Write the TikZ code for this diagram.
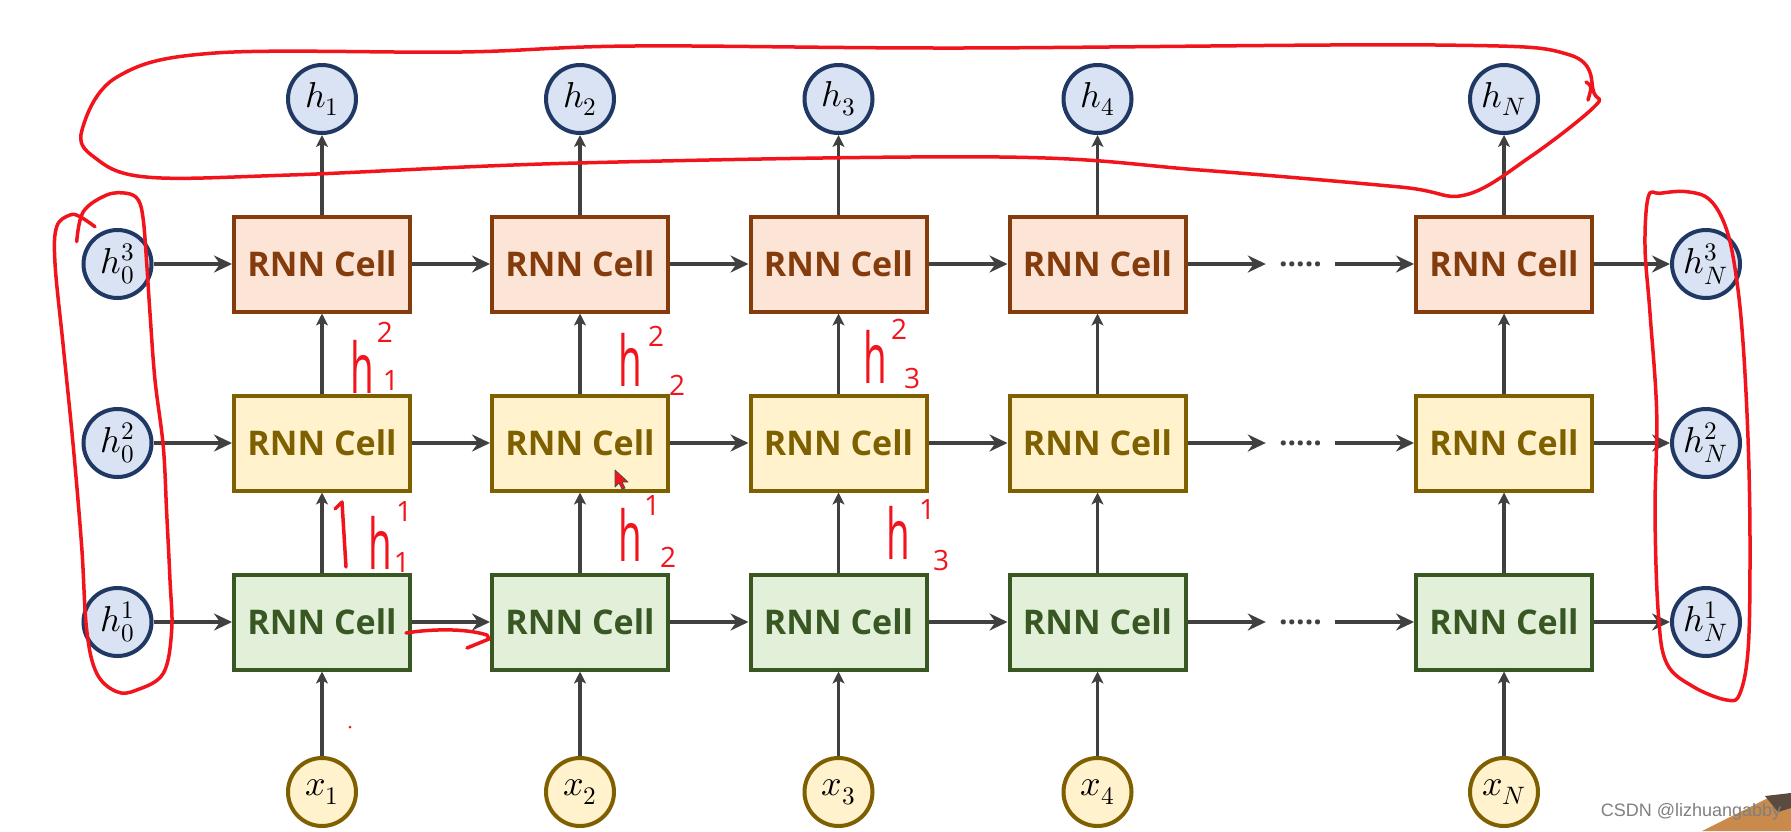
\documentclass[tikz,border=0pt]{standalone}
\usepackage{fontspec}
\usepackage{unicode-math}
\newfontfamily\osans{Open Sans}
\newfontfamily\arialf{Liberation Sans}
\usetikzlibrary{arrows.meta}
\definecolor{topfill}{HTML}{FCE4D6}
\definecolor{topdraw}{HTML}{843C0C}
\definecolor{midfill}{HTML}{FFF2CC}
\definecolor{middraw}{HTML}{7F6000}
\definecolor{botfill}{HTML}{E2F0D9}
\definecolor{botdraw}{HTML}{385723}
\definecolor{hfill}{HTML}{DAE3F3}
\definecolor{hdraw}{HTML}{203864}
\definecolor{agray}{HTML}{404040}
\definecolor{ink}{HTML}{F2141C}
\definecolor{photo}{HTML}{C98A4B}
\definecolor{photodark}{HTML}{5A4A40}
\begin{document}
\begin{tikzpicture}[x=1pt,y=-1pt,
  cellbox/.style={draw, line width=4pt, minimum width=176pt, minimum height=95pt, inner sep=0pt,
    font=\osans\bfseries\fontsize{34}{40}\selectfont},
  toprow/.style={fill=topfill, draw=topdraw, text=topdraw},
  midrow/.style={fill=midfill, draw=middraw, text=middraw},
  botrow/.style={fill=botfill, draw=botdraw, text=botdraw},
  hcirc/.style={circle, draw=hdraw, fill=hfill, line width=4pt, minimum size=68pt, inner sep=0pt,
    font=\fontsize{36}{40}\selectfont},
  xcirc/.style={circle, draw=middraw, fill=midfill, line width=4pt, minimum size=68pt, inner sep=0pt,
    font=\fontsize{36}{40}\selectfont},
  hline/.style={line width=3.5pt, draw=agray, -{Stealth[length=18pt,width=17pt,inset=6pt]}},
  vline/.style={line width=3.5pt, draw=agray, -{Stealth[length=12pt,width=12pt,inset=3pt]}},
  dotsnode/.style={minimum width=69pt, text height=4.6pt, text depth=0pt, inner sep=0pt, text=agray,
    font=\osans\bfseries\fontsize{30}{30}\selectfont},
  redink/.style={draw=ink, line width=3.5pt, line cap=round, line join=round},
  hw/.style={text=ink, inner sep=0pt, font=\osans\fontsize{70}{70}\selectfont},
  hws/.style={text=ink, inner sep=0pt, font=\osans\fontsize{28}{28}\selectfont}
]
\useasboundingbox (0,0) rectangle (1791,831);
\fill[white] (0,0) rectangle (1791,831);

% columns
\foreach \i/\x/\lab in {1/322/1,2/580/2,3/838.5/3,4/1097.5/4,5/1504/N} {
  \node[cellbox, toprow] (c\i3) at (\x,264) {RNN Cell};
  \node[cellbox, midrow] (c\i2) at (\x,443) {RNN Cell};
  \node[cellbox, botrow] (c\i1) at (\x,622) {RNN Cell};
  \node[hcirc] (h\i) at (\x,99) {$h_{\lab}$};
  \node[xcirc] (x\i) at (\x,792) {$x_{\lab}$};
  \draw[vline] (x\i) -- (c\i1);
  \draw[vline] (c\i1) -- (c\i2);
  \draw[vline] (c\i2) -- (c\i3);
  \draw[vline] (c\i3) -- (h\i);
}

% initial and final states
\foreach \r/\y in {3/264,2/443,1/622} {
  \node[hcirc] (h0\r) at (117.5,\y) {$h_0^{\r}$};
  \node[hcirc] (hN\r) at (1706,\y) {$h_N^{\r}$};
  \node[dotsnode] (d\r) at (1300.5,\y) {.....};
  \draw[hline] (h0\r) -- (c1\r);
  \draw[hline] (c1\r) -- (c2\r);
  \draw[hline] (c2\r) -- (c3\r);
  \draw[hline] (c3\r) -- (c4\r);
  \draw[hline] (c4\r) -- (d\r);
  \draw[hline] (d\r) -- (c5\r);
  \draw[hline] (c5\r) -- (hN\r);
}

% red annotations: loops
\draw[redink] plot[smooth cycle, tension=0.6] coordinates {
  (82,130) (117,77) (215,53) (462,52) (634,46) (960,48) (1436,45) (1570,55) (1594,93)
  (1594,107) (1530,157) (1465,195) (1400,187) (1200,170) (1000,157) (577,163) (290,175)
  (146,177) (94,157)};
\draw[redink] (1586,82) .. controls (1592,86) .. (1588,100);
\draw[redink] plot[smooth, tension=0.6] coordinates {
  (76.7,241.7) (83.3,211.7) (106.7,195) (126.7,193.3) (138.3,200) (143.3,220) (146.7,263.3)
  (150,313.3) (155,380) (163.3,446.7) (166.7,513.3) (170,580) (171.7,630) (163.3,673.3)
  (136.7,690) (116.7,691.7) (96.7,673.3) (86.7,630) (81.7,546.7) (73.3,446.7) (63.3,346.7)
  (55,263.3) (56.7,226.7) (70,215) (80,216.7) (95,226.7)};
\draw[redink] plot[smooth cycle, tension=0.6] coordinates {
  (1648.3,196.7) (1645,246.7) (1650,313.3) (1656.7,413.3) (1655,513.3) (1658.3,613.3)
  (1666.7,663.3) (1693.3,686.7) (1726.7,700) (1740,693.3) (1748.3,646.7) (1750,546.7)
  (1748.3,446.7) (1743.3,346.7) (1736.7,280) (1726.7,230) (1710,200) (1686.7,191.7)
  (1660,193.3)};
% red arrow between bottom cells
\draw[redink] (406,633) .. controls (430,629) and (465,628) .. (487,635) -- (489,639) -- (467,648);
% stroke next to h^1_1
\draw[redink] (346,567) -- (342,502) -- (335,509);

% handwritten labels
\node[hw] (a21h) at (362,367) {\scalebox{0.55}[1]{h}};
\node[hws] (a21s) at (385,332) {2};
\node[hws] (a21b) at (391,380) {1};
\node[hw] (a22h) at (630,360) {\scalebox{0.55}[1]{h}};
\node[hws] (a22s) at (656,336) {2};
\node[hws] (a22b) at (677,385) {2};
\node[hw] (a23h) at (875,357) {\scalebox{0.55}[1]{h}};
\node[hws] (a23s) at (899,329) {2};
\node[hws] (a23b) at (912,378) {3};
\node[hw] (a11h) at (380,543) {\scalebox{0.55}[1]{h}};
\node[hws] (a11s) at (404,511) {1};
\node[hws] (a11b) at (402,562) {1};
\node[hw] (a12h) at (630,535) {\scalebox{0.55}[1]{h}};
\node[hws] (a12s) at (652,505) {1};
\node[hws] (a12b) at (668,557) {2};
\node[hw] (a13h) at (898,533) {\scalebox{0.55}[1]{h}};
\node[hws] (a13s) at (927,509) {1};
\node[hws] (a13b) at (941,560) {3};

% small red dot and cursor
\fill[ink] (350,727) circle (1.5);
\filldraw[fill=ink, draw=black!70, line width=0.8pt, line join=round]
  (615,470) -- (615,487) -- (619,483) -- (622,489) -- (625,488) -- (622,482) -- (628,482) -- cycle;

% photo corner and watermark
\fill[photo] (1702,831) -- (1770,797) -- (1791,793) -- (1791,831) -- cycle;
\fill[photodark] (1765,796) -- (1791,793) -- (1791,808) -- (1778,812) -- cycle;
\node[text=black!50, inner sep=0pt, font=\arialf\fontsize{18}{18}\selectfont] (wm) at (1691,812) {CSDN @lizhuangabby};
\end{tikzpicture}
\end{document}
